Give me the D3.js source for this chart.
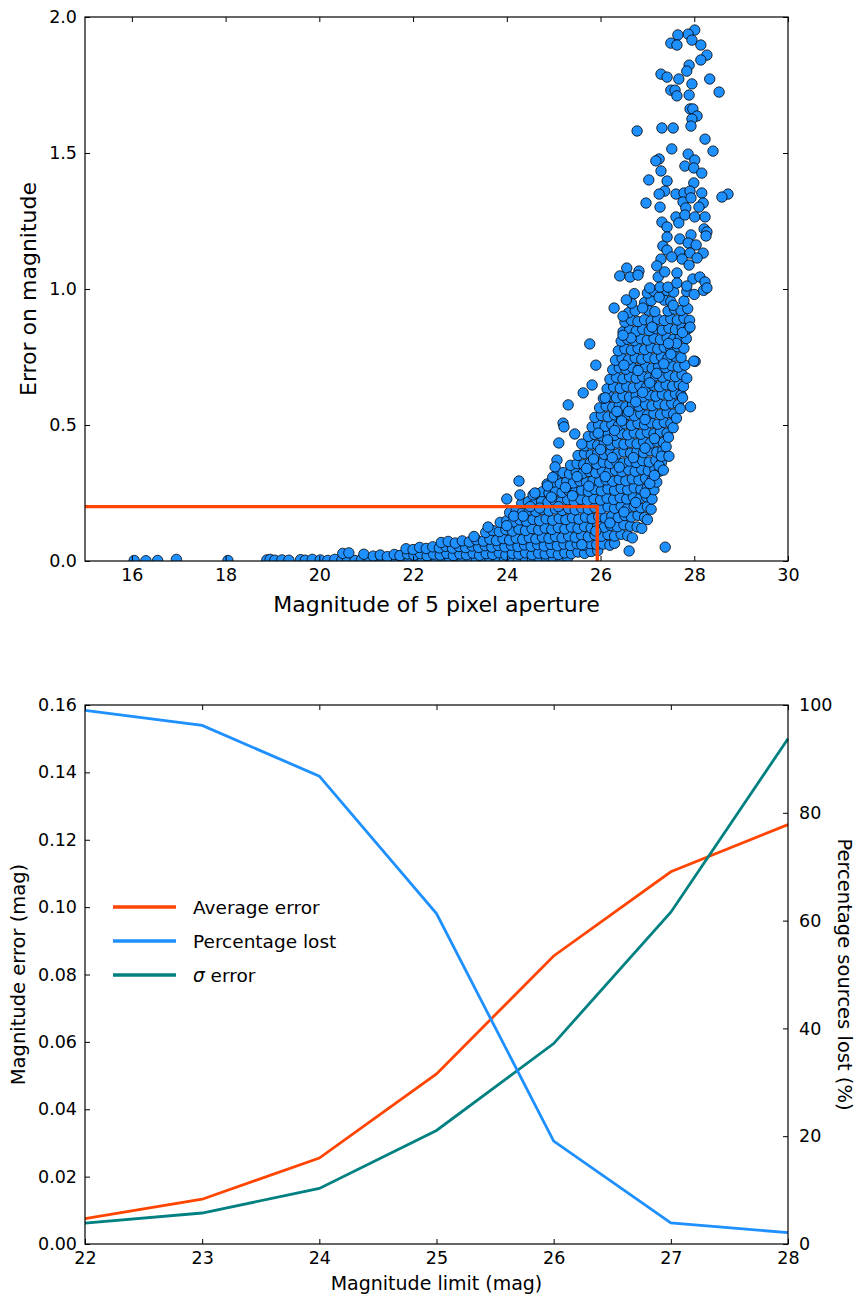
<!DOCTYPE html>
<html><head><meta charset="utf-8">
<script src="https://cdn.jsdelivr.net/npm/d3@7"></script>
<style>body{margin:0;background:#fff} text{font-family:"DejaVu Sans",sans-serif;fill:#000}</style>
</head><body><svg id="c" width="857" height="1298"></svg>
<script>
// ---------- Top chart data: [magnitude, error] ----------
const bottomRow = [[16.05,.002],[16.3,.001],[16.55,.002],[16.95,.006],[18.05,.002],[18.88,.004],[18.95,.006],[19.05,.003],[19.2,.004],[19.35,.003],[19.6,.005],[19.7,.003],[19.85,.006],
[20.02,.004],[20.18,.002],[20.33,.006],[20.48,.003],[20.6,.008],[20.76,.002],[20.9,.005],[21.05,.003],[21.2,.007],[21.34,.002],[21.5,.005],[21.63,.009],[21.78,.003],[21.92,.006],[22.06,.002],[22.2,.008],[22.35,.004],[22.5,.002],[22.63,.007],[22.78,.003],[22.92,.009],[23.06,.004],[23.2,.002],[23.35,.007],[23.5,.003],[23.64,.006],[23.8,.002],[23.95,.008],[24.1,.003],[24.25,.006],[24.4,.002],[24.55,.007],[24.7,.004],[24.85,.009],[25.0,.005],[25.15,.008],[25.3,.012]];
const cloudPoints = [
[20.5,.028],[20.63,.03],[20.95,.025],[21.15,.018],[21.3,.022],[21.45,.016],[21.6,.024],[21.72,.02],[21.88,.026],[22.02,.021],[22.16,.027],[22.3,.019],[22.44,.025],[22.58,.022],[22.72,.028],[22.86,.02],[23.0,.026],[23.14,.023],[23.28,.029],[23.42,.021],[23.56,.027],[23.7,.024],[23.84,.03],[23.98,.022],[24.12,.028],[24.26,.025],[24.4,.03],[24.54,.023],[24.68,.029],[24.82,.026],[24.96,.031],[25.1,.024],[25.24,.03],[25.38,.027],[25.52,.033],[25.66,.028],[25.8,.035],[25.94,.038],
[21.85,.045],[22.0,.042],[22.14,.05],[22.28,.046],[22.42,.052],[22.56,.048],[22.7,.054],[22.84,.047],[22.98,.053],[23.12,.049],[23.26,.055],[23.4,.05],[23.54,.056],[23.68,.051],[23.82,.057],[23.96,.052],[24.1,.058],[24.24,.053],[24.38,.059],[24.52,.054],[24.66,.06],[24.8,.055],[24.94,.061],[25.08,.056],[25.22,.062],[25.36,.057],[25.5,.063],[25.64,.058],[25.78,.064],[25.92,.06],[26.06,.062],[26.2,.058],[26.3,.065],
[22.6,.068],[22.75,.072],[22.9,.066],[23.05,.074],[23.2,.07],[23.35,.078],[23.5,.073],[23.64,.08],[23.78,.075],[23.92,.082],[24.06,.077],[24.2,.084],[24.34,.079],[24.48,.086],[24.62,.081],[24.76,.088],[24.9,.083],[25.04,.09],[25.18,.085],[25.32,.092],[25.46,.087],[25.6,.094],[25.74,.089],[25.88,.096],[26.02,.091],[26.16,.097],[26.3,.092],[26.44,.098],[26.58,.093],[26.68,.085],
[23.55,.105],[23.7,.112],[23.84,.108],[23.98,.115],[24.12,.11],[24.26,.117],[24.4,.112],[24.54,.119],[24.68,.114],[24.82,.121],[24.96,.116],[25.1,.123],[25.24,.118],[25.38,.125],[25.52,.12],[25.66,.127],[25.8,.122],[25.94,.129],[26.08,.124],[26.22,.131],[26.36,.126],[26.5,.133],[26.64,.128],[26.78,.125],[26.88,.12],
[23.86,.142],[24.0,.148],[24.14,.144],[24.28,.151],[24.42,.146],[24.56,.153],[24.7,.148],[24.84,.155],[24.98,.15],[25.12,.157],[25.26,.152],[25.4,.159],[25.54,.154],[25.68,.161],[25.82,.156],[25.96,.163],[26.1,.158],[26.24,.165],[26.38,.16],[26.52,.167],[26.66,.162],[26.8,.168],[26.94,.16],[27.0,.152],
[24.06,.178],[24.2,.185],[24.34,.18],[24.48,.187],[24.62,.182],[24.76,.189],[24.9,.184],[25.04,.191],[25.18,.186],[25.32,.193],[25.46,.188],[25.6,.195],[25.74,.19],[25.88,.197],[26.02,.192],[26.16,.199],[26.3,.194],[26.44,.2],[26.58,.195],[26.72,.201],[26.86,.196],[27.0,.2],[27.08,.19],
[24.32,.212],[24.46,.218],[24.6,.214],[24.74,.221],[24.88,.216],[25.02,.223],[25.16,.218],[25.3,.225],[25.44,.22],[25.58,.227],[25.72,.222],[25.86,.229],[26.0,.224],[26.14,.231],[26.28,.226],[26.42,.233],[26.56,.228],[26.7,.235],[26.84,.23],[26.98,.236],[27.1,.228],
[24.62,.248],[24.76,.255],[24.9,.25],[25.04,.257],[25.18,.252],[25.32,.259],[25.46,.254],[25.6,.261],[25.74,.256],[25.88,.263],[26.02,.258],[26.16,.265],[26.3,.26],[26.44,.267],[26.58,.262],[26.72,.269],[26.86,.264],[27.0,.27],[27.14,.262],
[24.86,.283],[25.0,.29],[25.14,.285],[25.28,.292],[25.42,.287],[25.56,.294],[25.7,.289],[25.84,.296],[25.98,.291],[26.12,.298],[26.26,.293],[26.4,.3],[26.54,.295],[26.68,.302],[26.82,.297],[26.96,.304],[27.1,.298],[27.2,.29],
[25.06,.318],[25.2,.325],[25.34,.32],[25.48,.327],[25.62,.322],[25.76,.329],[25.9,.324],[26.04,.331],[26.18,.326],[26.32,.333],[26.46,.328],[26.6,.335],[26.74,.33],[26.88,.337],[27.02,.332],[27.16,.338],[27.26,.33],
[25.36,.352],[25.5,.358],[25.64,.354],[25.78,.361],[25.92,.356],[26.06,.363],[26.2,.358],[26.34,.365],[26.48,.36],[26.62,.367],[26.76,.362],[26.9,.369],[27.04,.364],[27.18,.37],[27.3,.362],
[25.52,.388],[25.66,.395],[25.8,.39],[25.94,.397],[26.08,.392],[26.22,.399],[26.36,.394],[26.5,.401],[26.64,.396],[26.78,.403],[26.92,.398],[27.06,.405],[27.2,.4],[27.33,.406],
[25.66,.423],[25.8,.43],[25.94,.425],[26.08,.432],[26.22,.427],[26.36,.434],[26.5,.429],[26.64,.436],[26.78,.431],[26.92,.438],[27.06,.433],[27.2,.44],[27.34,.436],
[25.74,.458],[25.88,.465],[26.02,.46],[26.16,.467],[26.3,.462],[26.44,.469],[26.58,.464],[26.72,.471],[26.86,.466],[27.0,.473],[27.14,.468],[27.28,.475],[27.42,.47],
[25.82,.493],[25.96,.5],[26.1,.495],[26.24,.502],[26.38,.497],[26.52,.504],[26.66,.499],[26.8,.506],[26.94,.501],[27.08,.508],[27.22,.503],[27.36,.51],[27.5,.505],
[25.88,.528],[26.02,.535],[26.16,.53],[26.3,.537],[26.44,.532],[26.58,.539],[26.72,.534],[26.86,.541],[27.0,.536],[27.14,.543],[27.28,.538],[27.42,.545],[27.56,.54],
[25.98,.563],[26.12,.57],[26.26,.565],[26.4,.572],[26.54,.567],[26.68,.574],[26.82,.569],[26.96,.576],[27.1,.571],[27.24,.578],[27.38,.573],[27.52,.58],[27.66,.575],
[26.06,.598],[26.2,.605],[26.34,.6],[26.48,.607],[26.62,.602],[26.76,.609],[26.9,.604],[27.04,.611],[27.18,.606],[27.32,.613],[27.46,.608],[27.6,.615],[27.72,.61],
[26.14,.633],[26.28,.64],[26.42,.635],[26.56,.642],[26.7,.637],[26.84,.644],[26.98,.639],[27.12,.646],[27.26,.641],[27.4,.648],[27.54,.643],[27.68,.65],[27.77,.642],
[26.2,.668],[26.34,.675],[26.48,.67],[26.62,.677],[26.76,.672],[26.9,.679],[27.04,.674],[27.18,.681],[27.32,.676],[27.46,.683],[27.6,.678],[27.74,.685],
[26.26,.703],[26.4,.71],[26.54,.705],[26.68,.712],[26.82,.707],[26.96,.714],[27.1,.709],[27.24,.716],[27.38,.711],[27.52,.718],[27.66,.713],[27.8,.72],
[26.32,.738],[26.46,.745],[26.6,.74],[26.74,.747],[26.88,.742],[27.02,.749],[27.16,.744],[27.3,.751],[27.44,.746],[27.58,.753],[27.72,.748],
[26.38,.773],[26.52,.78],[26.66,.775],[26.8,.782],[26.94,.777],[27.08,.784],[27.22,.779],[27.36,.786],[27.5,.781],[27.64,.788],[27.78,.782],
[26.44,.808],[26.58,.815],[26.72,.81],[26.86,.817],[27.0,.812],[27.14,.819],[27.28,.814],[27.42,.821],[27.56,.816],[27.7,.823],[27.83,.818],
[26.48,.843],[26.62,.85],[26.76,.845],[26.9,.852],[27.04,.847],[27.18,.854],[27.32,.849],[27.46,.856],[27.6,.851],[27.74,.858],[27.88,.855],
[26.52,.878],[26.66,.885],[26.8,.88],[26.94,.887],[27.08,.882],[27.22,.889],[27.36,.884],[27.5,.891],[27.64,.886],[27.78,.893],[27.9,.885],
[26.6,.913],[26.74,.92],[27.02,.922],[27.16,.917],[27.44,.919],[27.58,.926],[27.72,.921],[27.86,.928],
[26.66,.948],[26.94,.95],[27.08,.957],[27.36,.959],[27.5,.954],[27.78,.956],
[26.72,.983],[27.0,.985],[27.14,.992],[27.42,.994],[27.56,.989],[27.84,.991],[28.0,.98],[28.2,.995]];
const fillPoints = [
[24.15,.165],[24.5,.2],[24.95,.235],[25.25,.27],[25.5,.31],[25.7,.34],[25.85,.375],[26.0,.41],[26.15,.445],[26.3,.48],[26.45,.515],[26.6,.55],[26.75,.585],[26.9,.62],[27.05,.655],[27.2,.69],[27.35,.725],[27.5,.76],[27.62,.8],[27.75,.84],[26.55,.96],[26.9,.93],[27.25,.97],[27.55,.94],
[25.6,.06],[25.9,.11],[26.2,.14],[26.5,.18],[26.75,.215],[26.95,.25],[27.05,.285],[27.15,.315],[27.25,.35],[27.3,.385],[27.4,.42],[27.45,.455],[27.55,.49],[27.62,.525],[27.7,.56],[27.75,.6],
[23.3,.09],[23.6,.125],[24.0,.13],[24.35,.165],[24.7,.195],[25.1,.2],[25.4,.24],[25.75,.275],[26.1,.31],[26.4,.345],[26.7,.38],[26.95,.415],[27.15,.45],[26.35,.55],[26.1,.6],[26.5,.72],[26.65,.82],[27.1,.86],[27.45,.8],[26.8,.7],[26.95,.52],[25.95,.47],[25.6,.43],[26.25,.38]];
const sparsePoints = [
[28.01,1.952],[27.87,1.937],[27.65,1.934],[27.95,1.915],[27.5,1.904],[27.63,1.897],[28.14,1.897],[28.27,1.86],[28.14,1.842],[27.89,1.823],[27.84,1.801],[27.29,1.79],[27.42,1.779],[27.67,1.772],[28.33,1.772],[27.95,1.754],[28.53,1.724],[27.5,1.731],[27.59,1.731],[27.63,1.71],[27.89,1.713],[27.91,1.662],[27.97,1.662],[28.06,1.636],[27.95,1.625],[26.78,1.581],[27.31,1.592],[27.55,1.592],[27.93,1.599],[28.23,1.551],[27.52,1.515],[28.4,1.507],
[27.87,1.496],[27.25,1.478],[27.18,1.471],[28.01,1.474],[27.8,1.452],[27.99,1.445],[28.16,1.426],[27.29,1.434],[27.03,1.401],[27.42,1.397],[27.99,1.39],[27.37,1.36],[27.25,1.349],[27.61,1.349],[27.78,1.353],[27.91,1.36],[28.16,1.353],[28.72,1.349],[28.59,1.338],[26.97,1.316],[27.27,1.301],[27.76,1.32],[27.93,1.335],[28.19,1.316],[28.1,1.301],[27.82,1.298],[27.61,1.265],[27.8,1.272],[28.01,1.265],[28.23,1.265],[27.67,1.243],[27.31,1.246],[27.42,1.228],[28.21,1.221],[28.27,1.21],[28.25,1.195],[27.42,1.191],[27.69,1.184],[27.93,1.199],[27.33,1.158],[27.87,1.169],[28.04,1.162],[28.19,1.132],[27.42,1.143],[27.69,1.136],[27.91,1.132],[27.29,1.11],[27.52,1.118],[27.74,1.11],[28.06,1.114],[27.2,1.085],[27.89,1.088],[26.56,1.077],[26.82,1.066],[26.41,1.048],[26.63,1.044],[26.8,1.051],[27.23,1.044],[27.37,1.063],[27.63,1.059],[27.97,1.037],[28.12,1.044],[28.23,1.026],[27.05,1.004],[27.27,1.007],[27.44,1.007],[27.63,1.022],[27.84,1.011],[28.27,1.004],
[25.31,.574],[25.2,.507],[25.22,.493],[25.45,.467],[25.11,.434],[25.07,.371],[25.03,.346],[24.26,.294],[24.0,.228],[24.56,.243],[24.28,.243],[24.6,.25],[24.87,.276],[24.98,.308],[25.63,.618],[25.82,.647],[25.77,.798],[25.9,.72],[26.29,.93],[26.48,.9],[26.48,.83],[26.61,.037],[27.38,.051],
[28.02,.734],[27.46,.385],[27.34,.334],[27.92,.567],[27.84,.672],[27.99,.735],[27.91,.86]];
const cutMag = 25.93, cutErr = 0.2;
const topXTicks = [16,18,20,22,24,26,28,30];
const topYTicks = [0,0.5,1.0,1.5,2.0];

// ---------- Bottom chart data ----------
const limitMags  = [22,23,24,25,26,27,28];
const avgError   = [0.0075,0.0133,0.0255,0.0505,0.0855,0.1105,0.1245];
const pctLost    = [99.0,96.2,86.8,61.3,19.1,3.9,2.1];
const sigmaError = [0.0062,0.0092,0.0165,0.0337,0.0595,0.0985,0.150];
const botXTicks = [22,23,24,25,26,27,28];
const botYTicks = [0,0.02,0.04,0.06,0.08,0.10,0.12,0.14,0.16];
const botY2Ticks = [0,20,40,60,80,100];

const svg = d3.select("#c");
const TICK = 5;

// ================= TOP CHART =================
const T = {l:85, r:788, t:17, b:561};
const x1 = d3.scaleLinear().domain([15,30]).range([T.l,T.r]);
const y1 = d3.scaleLinear().domain([0,2]).range([T.b,T.t]);
svg.append("clipPath").attr("id","clipTop").append("rect")
  .attr("x",T.l).attr("y",T.t).attr("width",T.r-T.l).attr("height",T.b-T.t);
const gPts = svg.append("g").attr("clip-path","url(#clipTop)");
gPts.selectAll("circle").data(bottomRow.concat(cloudPoints, fillPoints, sparsePoints)).join("circle")
  .attr("cx",d=>x1(d[0])).attr("cy",d=>y1(d[1])).attr("r",5.2)
  .attr("fill","#1E90FF").attr("stroke","#000").attr("stroke-width",0.8);
gPts.append("path")
  .attr("d", d3.line()([[x1(15),y1(cutErr)],[x1(cutMag),y1(cutErr)],[x1(cutMag),y1(0)]]))
  .attr("fill","none").attr("stroke","#FF4500").attr("stroke-width",3.4);

function frameAxes(xs, ys, box, xt, yt, xfmt, yfmt, fs, yRight){
  svg.append("g").attr("transform",`translate(0,${box.b})`)
    .call(d3.axisBottom(xs).tickValues(xt).tickFormat(xfmt).tickSize(-TICK).tickPadding(8));
  svg.append("g").attr("transform",`translate(0,${box.t})`)
    .call(d3.axisTop(xs).tickValues(xt).tickFormat("").tickSize(-TICK));
  svg.append("g").attr("transform",`translate(${box.l},0)`)
    .call(d3.axisLeft(ys).tickValues(yt).tickFormat(yfmt).tickSize(-TICK).tickPadding(8));
  if(!yRight) svg.append("g").attr("transform",`translate(${box.r},0)`)
    .call(d3.axisRight(ys).tickValues(yt).tickFormat("").tickSize(-TICK));
  svg.selectAll(".domain").remove();
  svg.selectAll(".tick line").attr("stroke","#000").attr("stroke-width",1);
  svg.selectAll(".tick text").attr("font-size",fs).attr("font-family","DejaVu Sans").attr("fill","#000");
  svg.append("rect").attr("x",box.l).attr("y",box.t).attr("width",box.r-box.l).attr("height",box.b-box.t)
    .attr("fill","none").attr("stroke","#000").attr("stroke-width",1.2);
}
frameAxes(x1,y1,T,topXTicks,topYTicks,d3.format("d"),d3.format(".1f"),16.5,false);

svg.append("text").attr("x",(T.l+T.r)/2).attr("y",612).attr("text-anchor","middle")
  .attr("font-size",22).text("Magnitude of 5 pixel aperture");
svg.append("text").attr("transform",`translate(36,${(T.t+T.b)/2}) rotate(-90)`).attr("text-anchor","middle")
  .attr("font-size",22).text("Error on magnitude");

// ================= BOTTOM CHART =================
const B = {l:85, r:788, t:705, b:1244};
const x2 = d3.scaleLinear().domain([22,28]).range([B.l,B.r]);
const y2 = d3.scaleLinear().domain([0,0.16]).range([B.b,B.t]);
const y2r = d3.scaleLinear().domain([0,100]).range([B.b,B.t]);

const lineL = d3.line().x((d,i)=>x2(limitMags[i])).y(d=>y2(d));
const lineR = d3.line().x((d,i)=>x2(limitMags[i])).y(d=>y2r(d));
const gL = svg.append("g");
gL.append("path").attr("d",lineL(avgError)).attr("fill","none").attr("stroke","#FF4500").attr("stroke-width",2.8);
gL.append("path").attr("d",lineL(sigmaError)).attr("fill","none").attr("stroke","#008080").attr("stroke-width",2.8);
gL.append("path").attr("d",lineR(pctLost)).attr("fill","none").attr("stroke","#1E90FF").attr("stroke-width",2.8);

frameAxes(x2,y2,B,botXTicks,botYTicks,d3.format("d"),d3.format(".2f"),17.5,true);
svg.append("g").attr("transform",`translate(${B.r},0)`)
  .call(d3.axisRight(y2r).tickValues(botY2Ticks).tickFormat(d3.format("d")).tickSize(-TICK).tickPadding(11))
  .call(g=>g.select(".domain").remove())
  .call(g=>g.selectAll(".tick line").attr("stroke","#000"))
  .call(g=>g.selectAll(".tick text").attr("font-size",17.5).attr("font-family","DejaVu Sans").attr("fill","#000"));

svg.append("text").attr("x",(B.l+B.r)/2).attr("y",1290).attr("text-anchor","middle")
  .attr("font-size",19).text("Magnitude limit (mag)");
svg.append("text").attr("transform",`translate(25,${(B.t+B.b)/2}) rotate(-90)`).attr("text-anchor","middle")
  .attr("font-size",19.5).text("Magnitude error (mag)");
svg.append("text").attr("transform",`translate(838,${(B.t+B.b)/2}) rotate(90)`).attr("text-anchor","middle")
  .attr("font-size",19.5).text("Percentage sources lost (%)");

// legend
const legendItems = [["Average error","#FF4500"],["Percentage lost","#1E90FF"],["σ error","#008080"]];
const lg = svg.append("g");
legendItems.forEach((d,i)=>{
  const yy = 907 + i*34;
  lg.append("line").attr("x1",113).attr("x2",176).attr("y1",yy).attr("y2",yy)
    .attr("stroke",d[1]).attr("stroke-width",3.5);
  const t = lg.append("text").attr("x",193).attr("y",yy+7).attr("font-size",18.5);
  if(d[0].startsWith("σ")){
    t.append("tspan").attr("font-style","italic").text("σ");
    t.append("tspan").text(" error");
  } else t.text(d[0]);
});
</script></body></html>
